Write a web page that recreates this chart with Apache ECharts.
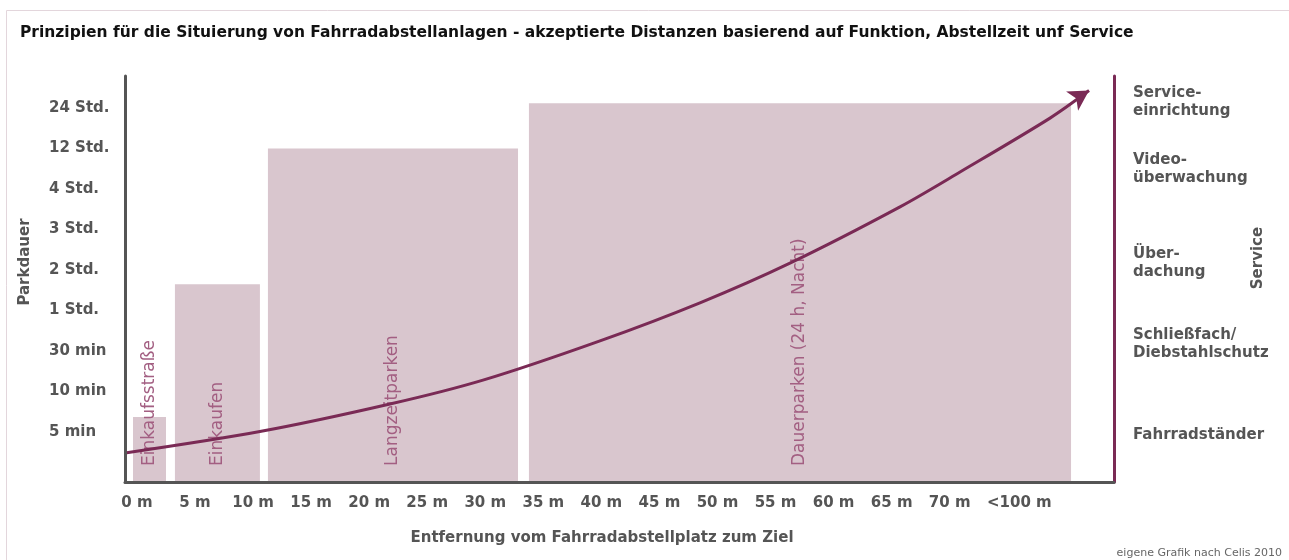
<!DOCTYPE html>
<html>
<head>
<meta charset="utf-8">
<script src="https://cdn.jsdelivr.net/npm/echarts@6/dist/echarts.min.js"></script>
<style>
html,body{margin:0;padding:0;background:#fff;}
#chart{width:1289px;height:560px;}
</style>
</head>
<body>
<div id="chart"></div>
<script>
// ---- data ----
const titleText = 'Prinzipien für die Situierung von Fahrradabstellanlagen - akzeptierte Distanzen basierend auf Funktion, Abstellzeit unf Service';
const xName = 'Entfernung vom Fahrradabstellplatz zum Ziel';
const yName = 'Parkdauer';
const serviceName = 'Service';
const sourceText = 'eigene Grafik nach Celis 2010';

// distance axis (metres); "<100 m" sits in the slot after 70 m
const distTicks = [0, 5, 10, 15, 20, 25, 30, 35, 40, 45, 50, 55, 60, 65, 70, 76];
const distLabels = ['0 m', '5 m', '10 m', '15 m', '20 m', '25 m', '30 m', '35 m', '40 m', '45 m', '50 m', '55 m', '60 m', '65 m', '70 m', '<100 m'];
const X_MIN = -1.03, X_MAX = 84.15;

// parking duration axis (ordinal levels)
const durationTicks = [1, 2, 3, 4, 5, 6, 7, 8, 9];
const durationLabels = ['5 min', '10 min', '30 min', '1 Std.', '2 Std.', '3 Std.', '4 Std.', '12 Std.', '24 Std.'];
const Y_MIN = -0.235, Y_MAX = 9.79;

// service levels (right axis)
const serviceLevel = [0.93, 3.17, 5.17, 7.49, 9.14];
const serviceLabels = ['Fahrradständer', 'Schließfach/\nDiebstahlschutz', 'Über-\ndachung', 'Video-\nüberwachung', 'Service-\neinrichtung'];

// parking functions (blocks)
const barNames = ['Einkaufsstraße', 'Einkaufen', 'Langzeitparken', 'Dauerparken (24 h, Nacht)'];
const barStart = [-0.34, 3.27, 11.28, 33.76];
const barEnd = [2.50, 10.59, 32.82, 80.45];
const barHeight = [1.37, 4.65, 8.0, 9.12];

// acceptance curve
const curveX = [-1.03, 10.59, 21.79, 29.80, 39.88, 48.49, 56.24, 65.72, 70.89, 78.64, 82.0];
const curveY = [0.48, 1.01, 1.69, 2.28, 3.25, 4.19, 5.17, 6.56, 7.42, 8.75, 9.43];

// ---- chart ----
const FONT = '"DejaVu Sans", Verdana, sans-serif';
const GREY = '#555555';
const PURPLE = '#7a2a55';
const chart = echarts.init(document.getElementById('chart'), null, {renderer: 'canvas'});

const curveData = curveX.map((x, i) => {
  if (i === curveX.length - 1) {
    return {value: [x, curveY[i]], symbol: 'arrow', symbolSize: [17, 20], symbolRotate: -58,
            itemStyle: {color: PURPLE}};
  }
  return [x, curveY[i]];
});

const option = {
  animation: false,
  backgroundColor: '#ffffff',
  title: {
    text: titleText, left: 20, top: 25, padding: 0,
    textStyle: {fontFamily: FONT, fontWeight: 'bold', fontSize: 15.5, color: '#111'}
  },
  grid: {left: 125, right: 175, top: 76, bottom: 78},
  xAxis: {
    type: 'value', min: X_MIN, max: X_MAX, z: 10,
    axisLine: {show: true, onZero: false, lineStyle: {color: GREY, width: 3}},
    axisTick: {show: false}, splitLine: {show: false},
    axisLabel: {
      customValues: distTicks,
      formatter: v => distLabels[distTicks.indexOf(v)] || '',
      margin: 14, fontFamily: FONT, fontWeight: 'bold', fontSize: 15, color: GREY
    }
  },
  yAxis: [{
    type: 'value', min: Y_MIN, max: Y_MAX, position: 'left', z: 10,
    axisLine: {show: true, onZero: false, lineStyle: {color: GREY, width: 3}},
    axisTick: {show: false}, splitLine: {show: false},
    axisLabel: {
      customValues: durationTicks,
      formatter: v => durationLabels[durationTicks.indexOf(v)] || '',
      align: 'left', margin: 76, fontFamily: FONT, fontWeight: 'bold', fontSize: 15, color: GREY
    }
  }, {
    type: 'value', min: Y_MIN, max: Y_MAX, position: 'right', z: 10,
    axisLine: {show: true, onZero: false, lineStyle: {color: PURPLE, width: 3}},
    axisTick: {show: false}, splitLine: {show: false},
    axisLabel: {
      customValues: serviceLevel,
      formatter: v => serviceLabels[serviceLevel.indexOf(v)] || '',
      align: 'left', margin: 19, lineHeight: 18, fontFamily: FONT, fontWeight: 'bold', fontSize: 15, color: GREY
    }
  }],
  series: [{
    type: 'custom', z: 2,
    xAxisIndex: 0, yAxisIndex: 0,
    data: barNames.map((n, i) => [barStart[i], barEnd[i], barHeight[i]]),
    encode: {x: [0, 1], y: 2},
    renderItem: (params, api) => {
      const i = params.dataIndex;
      const p0 = api.coord([api.value(0), api.value(2)]);
      const p1 = api.coord([api.value(1), Y_MIN]);
      return {
        type: 'group',
        children: [{
          type: 'rect',
          shape: {x: p0[0], y: p0[1], width: p1[0] - p0[0], height: p1[1] - p0[1]},
          style: {fill: '#d9c6ce'}
        }, {
          type: 'text', z2: 5,
          x: (p0[0] + p1[0]) / 2, y: p1[1] - 16,
          rotation: Math.PI / 2,
          style: {
            text: barNames[i], font: '17px ' + FONT, fill: '#a35f82',
            align: 'left', verticalAlign: 'middle', textAlign: 'left', textVerticalAlign: 'middle'
          }
        }]
      };
    }
  }, {
    type: 'line', z: 3,
    xAxisIndex: 0, yAxisIndex: 0,
    smooth: 0.3, symbol: 'none', showSymbol: true,
    lineStyle: {color: PURPLE, width: 3},
    itemStyle: {color: PURPLE},
    data: curveData
  }],
  graphic: [{
    type: 'rect', silent: true, z: -1,
    shape: {x: 6.5, y: 10.5, width: 1400, height: 700},
    style: {fill: 'none', stroke: '#e3d6dc', lineWidth: 1}
  }, {
    type: 'text', x: 25, y: 262, rotation: Math.PI / 2,
    style: {text: yName, font: 'bold 15px ' + FONT, fill: GREY, textAlign: 'center', textVerticalAlign: 'middle'}
  }, {
    type: 'text', x: 1258, y: 258, rotation: Math.PI / 2,
    style: {text: serviceName, font: 'bold 15px ' + FONT, fill: GREY, textAlign: 'center', textVerticalAlign: 'middle'}
  }, {
    type: 'text', x: 602, y: 538,
    style: {text: xName, font: 'bold 15px ' + FONT, fill: GREY, textAlign: 'center', textVerticalAlign: 'middle'}
  }, {
    type: 'text', x: 1282, y: 553,
    style: {text: sourceText, font: '11px ' + FONT, fill: '#666', textAlign: 'right', textVerticalAlign: 'middle'}
  }]
};
chart.setOption(option);
</script>
</body>
</html>
